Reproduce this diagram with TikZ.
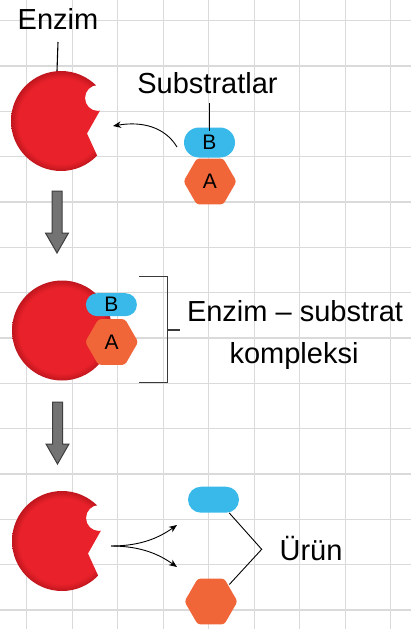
\documentclass[tikz,border=0pt]{standalone}
\usepackage{fontspec}
\setmainfont{Liberation Sans}
\usetikzlibrary{shapes.geometric,arrows.meta}

\definecolor{enzred}{HTML}{E8212A}
\definecolor{enzdark}{HTML}{C0161E}
\definecolor{subblue}{HTML}{38B9EA}
\definecolor{subor}{HTML}{F06639}
\definecolor{gridgray}{HTML}{DADADA}
\definecolor{arrgray}{HTML}{737373}
\definecolor{arredge}{HTML}{3E3E3E}
\definecolor{brkgray}{HTML}{3A3A3A}

% red disc, darkening only near its rim
\pgfdeclareradialshading{enzshade}{\pgfpoint{0bp}{0bp}}{color(0bp)=(enzred); color(21.5bp)=(enzred); color(25bp)=(enzdark); color(50bp)=(enzdark)}

% enzyme: disc with a round bite and a V-shaped cleft on its right side
\newcommand\enzymeat[3]{%
  \begin{scope}[shift={(#1,#2)},even odd rule]
    \ifnum#3=1
      \clip (-60,-60) rectangle (100,100) (37,-23) circle (13);
      \clip (-60,-60) rectangle (100,100)
        (26,12.5) -- (65,-56.5) -- (90,-56.5) -- (90,85) -- (59,84.5) -- cycle;
    \fi
    \shade[shading=enzshade] (0,0) circle (50);
  \end{scope}}

% thick grey downward arrow between stages
\newcommand\stagearrow[2]{%
  \draw[grayarrow] (#1-5,#2) -- (#1+5,#2) -- (#1+5,#2+42) -- (#1+11.5,#2+42)
    -- (#1,#2+62) -- (#1-11.5,#2+42) -- (#1-5,#2+42) -- cycle;}

\begin{document}
\begin{tikzpicture}[x=1pt,y=-1pt,
  gridline/.style={draw=gridgray,line width=1.3pt},
  pill/.style={draw=none,fill=subblue,rectangle,rounded corners=#1,inner sep=0pt,
    minimum width=51pt,minimum height=2*#1,font=\fontsize{21}{21}\selectfont},
  hexa/.style={draw=none,fill=subor,regular polygon,regular polygon sides=6,
    minimum size=53pt,inner sep=0pt,rounded corners=3pt,
    font=\fontsize{21}{21}\selectfont},
  lbl/.style={anchor=base,inner sep=0pt,font=\fontsize{29}{29}\selectfont},
  conn/.style={draw=black,line width=0.9pt},
  tagline/.style={draw=black,line width=1.1pt},
  bracketline/.style={draw=brkgray,line width=1.3pt},
  grayarrow/.style={fill=arrgray,draw=arredge,line width=1pt,line join=miter},
  tip/.style={-{Stealth[length=8pt,width=6.5pt,inset=2.5pt]}}
]
\useasboundingbox (0,0) rectangle (411,629);
\fill[white] (0,0) rectangle (411,629);

% squared paper
\foreach \i in {0,...,8}
  \draw[gridline] ({26.7+45.5*\i},0) -- ({26.7+45.5*\i},629);
\foreach \j in {0,...,13}
  \draw[gridline] (0,{20.7+45.33*\j}) -- (411,{20.7+45.33*\j});

% ---- stage 1: enzyme and free substrates
\enzymeat{61}{121}{1}
\node[lbl] (enzlabel) at (58,29) {Enzim};
\coordinate (enztop) at (57,71);
\draw[tagline] ([yshift=-13pt]enzlabel.base) -- (enztop);

\node[hexa] (hexA1) at (210,181.5) {A};
\node[pill=15pt] (pillB1) at (209.5,142.5) {B};
\node[lbl] (sublabel) at (207.5,93) {Substratlar};
\draw[tagline,shorten >=-4pt] ([yshift=-10pt]sublabel.base -| pillB1.north) -- (pillB1.north);

\coordinate (bindtail) at (177,147);
\coordinate (bindhead) at (113,126);
\draw[conn,tip] (bindtail) .. controls (165,127) and (142,121) .. (bindhead);

\stagearrow{57}{191}

% ---- stage 2: enzyme-substrate complex
\enzymeat{62}{330.5}{0}
\node[hexa] (hexA2) at (111.7,342) {A};
\node[pill=11.5pt] (pillB2) at (111.4,304.7) {B};

\coordinate (brtop) at (139,276.7);
\coordinate (brbot) at (139,382.7);
\coordinate (brmid) at (167.7,330);
\draw[bracketline] (brtop) -- (167.7,276.7) -- (167.7,382.7) -- (brbot);
\node[lbl] (cmplx1) at (295,321.7) {Enzim – substrat};
\node[lbl] (cmplx2) at (294,363) {kompleksi};
\draw[bracketline] (brmid) -- (180,330);

\stagearrow{57.5}{402}

% ---- stage 3: enzyme released, products
\enzymeat{62}{541}{1}
\node[pill=13pt] (pillB3) at (213.5,499.7) {};
\node[hexa] (hexA3) at (211,601.5) {};

\coordinate (split) at (111,546);
\coordinate (upend) at (177,525);
\coordinate (downend) at (177,567);
\draw[conn,tip] (split) .. controls (142,546) and (160,537) .. (upend);
\draw[conn,tip] (split) .. controls (142,546) and (160,555) .. (downend);

\node[lbl] (urun) at (311,560.7) {Ürün};
\coordinate (urunjoin) at (261.7,549.3);
\draw[conn] ([xshift=-10pt]pillB3.south east) -- (urunjoin) -- ([xshift=18.3pt,yshift=17pt]hexA3.center);
\end{tikzpicture}
\end{document}
